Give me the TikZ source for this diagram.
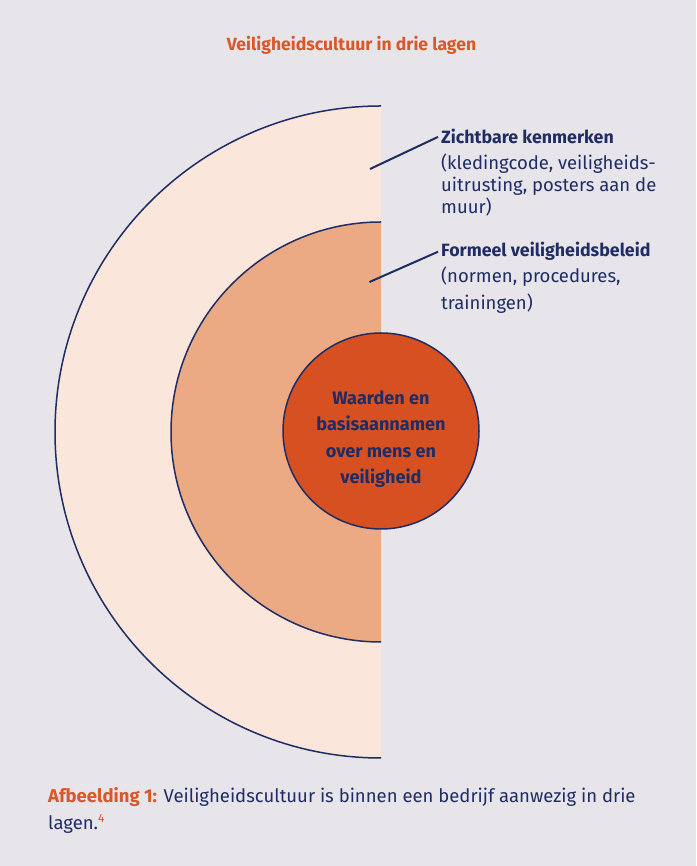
\documentclass[tikz,border=0pt]{standalone}
\usepackage{fontspec}
\setmainfont{Fira Sans}
\usepackage{xcolor}

\definecolor{paper}{RGB}{231,228,234}
\definecolor{layerout}{RGB}{250,230,218}
\definecolor{layermid}{RGB}{235,170,132}
\definecolor{layercore}{RGB}{215,80,34}
\definecolor{navy}{RGB}{31,45,100}
\definecolor{accent}{RGB}{218,88,40}

\tikzset{
  rim/.style={draw=navy, line width=1.5pt},
  leader/.style={draw=navy, line width=2pt},
  heading/.style={anchor=base west, inner sep=3pt, text=navy,
    font=\bfseries\fontsize{17.8}{20}\selectfont},
  note/.style={anchor=base west, inner sep=0pt, text=navy, align=left},
}

\begin{document}
\begin{tikzpicture}[x=1pt,y=1pt]
  %% Paper and frame size
  \fill[paper] (0,0) rectangle (696,866);
  \useasboundingbox (0,0) rectangle (696,866);

  \node (title) [anchor=base, text=accent, inner sep=0pt,
    font=\bfseries\fontsize{17.6}{20}\selectfont] at (351.5,815)
    {Veiligheidscultuur in drie lagen};

  %% Centre of the three layers
  \coordinate (centre) at (381,434);

  %% Outer half disc
  \fill[layerout] (centre) ++(0,326) arc[start angle=90, end angle=270, radius=326] -- cycle;
  \draw[rim] (centre) ++(0,326) arc[start angle=90, end angle=270, radius=326];

  %% Middle half disc
  \fill[layermid] (centre) ++(0,210) arc[start angle=90, end angle=270, radius=210] -- cycle;
  \draw[rim] (centre) ++(0,210) arc[start angle=90, end angle=270, radius=210];

  %% Core
  \node (core) [circle, fill=layercore, rim, minimum size=196pt, inner sep=0pt] at (381,435) {};
  \node (coretext) [text=navy, align=center, inner sep=0pt,
    font=\bfseries\fontsize{18.1}{26.5}\selectfont] at ([yshift=-8pt]core.center)
    {Waarden en\\basisaannamen\\over mens en\\veiligheid};

  %% Labels on the right (base = last line)
  \node (zichtbaar) [heading] at (438,722) {Zichtbare kenmerken};
  \node (zichtbaarnote) [note, font=\fontsize{18.5}{22}\selectfont] at (441,652)
    {(kledingcode, veiligheids-\\uitrusting, posters aan de\\muur)};

  \node (beleid) [heading] at (438,609) {Formeel veiligheidsbeleid};
  \node (beleidnote) [note, font=\fontsize{18.5}{27}\selectfont] at (441,556)
    {(normen, procedures,\\trainingen)};

  %% Leader lines
  \coordinate (outertip) at (370,697);
  \coordinate (midtip) at (369.5,584);
  \draw[leader] (outertip) -- (zichtbaar.west);
  \draw[leader] (midtip) -- (beleid.west);

  %% Caption
  \node (caption) [note, font=\fontsize{18.5}{27}\selectfont] at (48,36)
    {\textcolor{accent}{\bfseries Afbeelding 1:} Veiligheidscultuur is binnen een bedrijf aanwezig in drie\\
     lagen.\raisebox{7pt}{\fontsize{12}{12}\selectfont\textcolor{accent}{4}}};
\end{tikzpicture}
\end{document}
